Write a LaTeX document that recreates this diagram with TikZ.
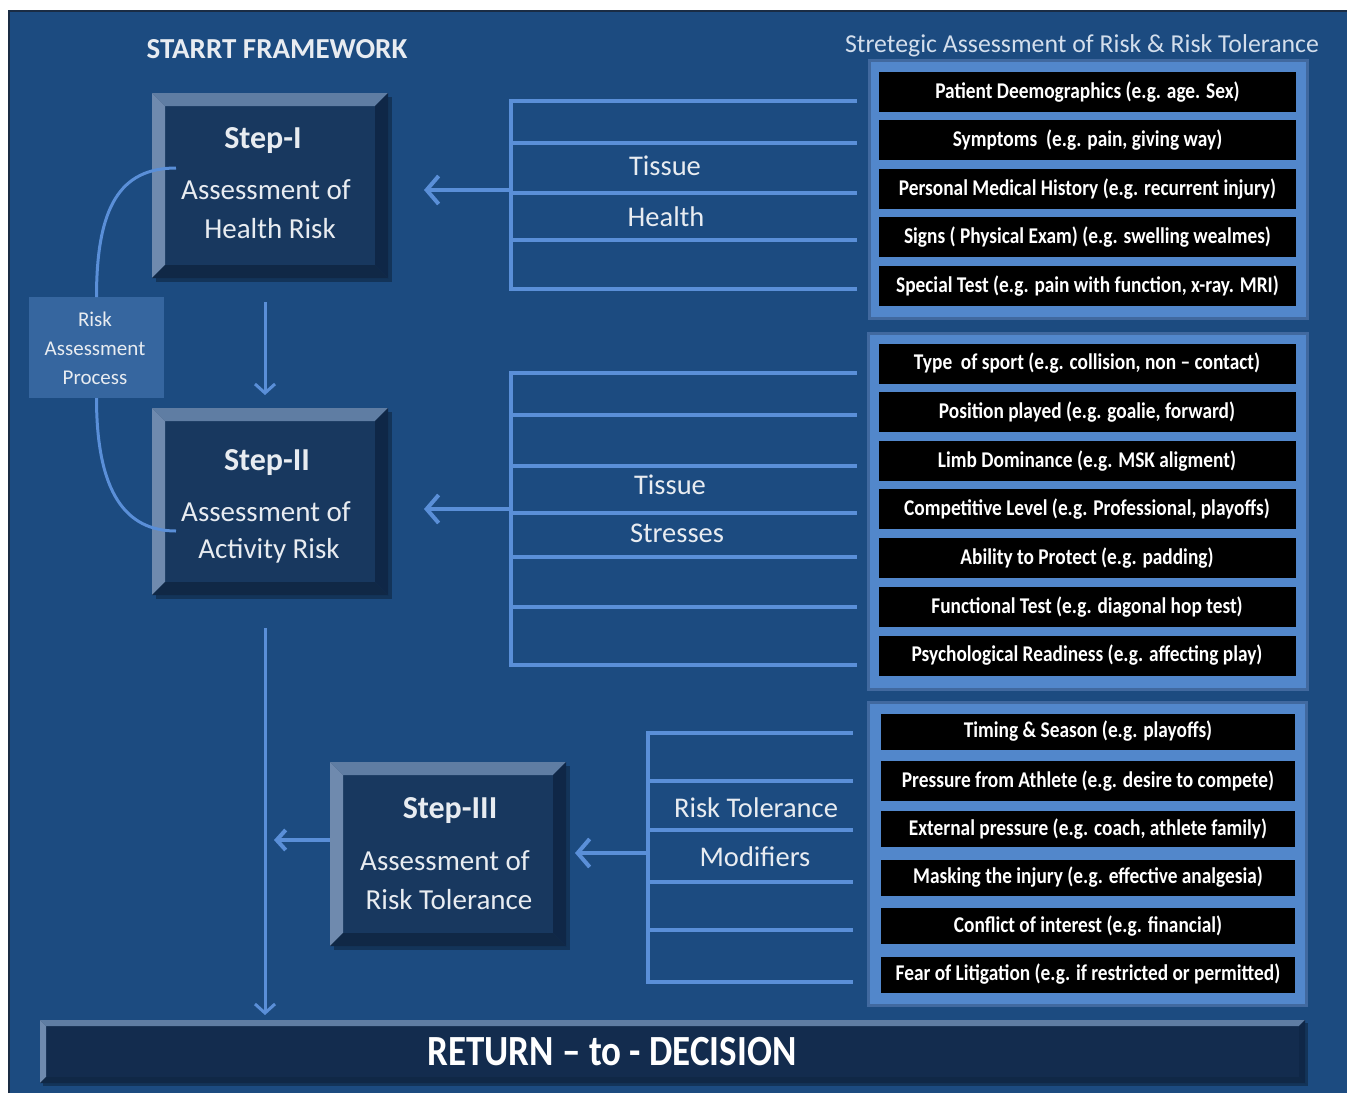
\documentclass[tikz,border=0pt]{standalone}
\usepackage{fontspec}
\setmainfont{Carlito}
\newfontfamily\condfont[FakeStretch=0.86]{Carlito}
\newfontfamily\barfont[FakeStretch=0.86]{Carlito}
\usetikzlibrary{arrows.meta,shadows}
\definecolor{bgblue}{HTML}{1C4B80}
\definecolor{bgrim}{HTML}{1A2C44}
\definecolor{stepface}{HTML}{18385F}
\definecolor{bvtopc}{HTML}{5F7DA3}
\definecolor{bvleftc}{HTML}{6F8AAE}
\definecolor{bvrightc}{HTML}{0F2747}
\definecolor{bvbotc}{HTML}{102846}
\definecolor{linecol}{HTML}{5A8FD8}
\definecolor{panelfill}{HTML}{5287CB}
\definecolor{panelrim}{HTML}{41699F}
\definecolor{rapfill}{HTML}{36669F}
\definecolor{txtwhite}{HTML}{E8ECF1}
\definecolor{subcol}{HTML}{D3DEEC}
\definecolor{barface}{HTML}{132C4E}
\newcommand\bevelbox[2]{%
 \fill[bvtopc] (#1.north west) -- (#1.north east) -- ([xshift=-#2,yshift=-#2]#1.north east) -- ([xshift=#2,yshift=-#2]#1.north west) -- cycle;
 \fill[bvleftc] (#1.north west) -- ([xshift=#2,yshift=-#2]#1.north west) -- ([xshift=#2,yshift=#2]#1.south west) -- (#1.south west) -- cycle;
 \fill[bvrightc] (#1.north east) -- (#1.south east) -- ([xshift=-#2,yshift=#2]#1.south east) -- ([xshift=-#2,yshift=-#2]#1.north east) -- cycle;
 \fill[bvbotc] (#1.south west) -- (#1.south east) -- ([xshift=-#2,yshift=#2]#1.south east) -- ([xshift=#2,yshift=#2]#1.south west) -- cycle;
}
\begin{document}
\begin{tikzpicture}[x=1pt,y=-1pt,
  titletxt/.style={text=txtwhite, font=\bfseries\fontsize{29}{33}\selectfont, inner sep=0pt},
  subtxt/.style={text=subcol, font=\fontsize{25.8}{30}\selectfont, inner sep=0pt},
  stepbox/.style={rectangle, fill=stepface, inner sep=0pt, outer sep=0pt, minimum width=236pt,
     drop shadow={shadow xshift=4pt, shadow yshift=-4pt, opacity=.3, fill=black}},
  steptitle/.style={text=txtwhite, font=\bfseries\fontsize{32}{36}\selectfont, inner sep=0pt},
  stepline/.style={text=txtwhite, font=\fontsize{29}{33}\selectfont, inner sep=0pt},
  rapbox/.style={rectangle, fill=rapfill, inner sep=0pt, outer sep=0pt, minimum width=135pt, minimum height=101pt},
  raptxt/.style={text=txtwhite, font=\fontsize{21}{29}\selectfont, align=center, inner sep=0pt},
  panel/.style={rectangle, fill=panelfill, draw=panelrim, line width=3pt, inner sep=0pt, outer sep=0pt},
  itembox/.style={rectangle, fill=black, minimum width=417pt, minimum height=40pt, inner sep=0pt, outer sep=0pt,
     text=white, font=\condfont\bfseries\fontsize{22.5}{25}\selectfont},
  itembox3/.style={itembox, minimum width=414pt, minimum height=36pt},
  brline/.style={draw=linecol, line width=4pt},
  brlabel/.style={text=txtwhite, font=\fontsize{28.5}{32}\selectfont, inner sep=0pt},
  bigarrow/.style={draw=linecol, line width=4pt, -{Straight Barb[length=12pt,width=28pt]}},
  smallarrow/.style={draw=linecol, line width=3pt, -{Straight Barb[length=9pt,width=20pt]}},
  arcline/.style={draw=linecol, line width=3pt},
  barbox/.style={rectangle, fill=barface, inner sep=0pt, outer sep=0pt, minimum width=1265pt, minimum height=63pt,
     drop shadow={shadow xshift=3pt, shadow yshift=-3pt, opacity=.3, fill=black}},
  bartxt/.style={text=white, font=\barfont\bfseries\fontsize{43}{48}\selectfont, inner sep=0pt}
]
\useasboundingbox (0,0) rectangle (1347,1093);
\fill[white] (0,0) rectangle (1347,1093);
\fill[bgblue] (8,10) rectangle (1347,1093);
\draw[bgrim, line width=1.5pt] (8.75,1093) -- (8.75,10.75) -- (1347,10.75);

% titles
\node[titletxt] (title) at (277,49) {STARRT FRAMEWORK};
\node[subtxt] (subtitle) at (1082,46) {Stretegic Assessment of Risk \& Risk Tolerance};

% panels
\node[panel, minimum width=438pt, minimum height=258pt] (pnl1) at (1088,189) {};
\node[panel, minimum width=439pt, minimum height=356pt] (pnl2) at (1087.5,511) {};
\node[panel, minimum width=438pt, minimum height=303pt] (pnl3) at (1087,853.5) {};

\node[itembox] (a1) at (1087.5,92) {Patient Deemographics (e.g. age. Sex)};
\node[itembox] (a2) at (1087.5,140) {Symptoms\ \ (e.g. pain, giving way)};
\node[itembox] (a3) at (1087.5,189) {Personal Medical History (e.g. recurrent injury)};
\node[itembox] (a4) at (1087.5,237) {Signs ( Physical Exam) (e.g. swelling wealmes)};
\node[itembox] (a5) at (1087.5,286) {Special Test (e.g. pain with function, x-ray. MRI)};

\node[itembox] (b1) at (1087,363.5) {Type\ \ of sport (e.g. collision, non – contact)};
\node[itembox] (b2) at (1087,412) {Position played (e.g. goalie, forward)};
\node[itembox] (b3) at (1087,461) {Limb Dominance (e.g. MSK aligment)};
\node[itembox] (b4) at (1087,509) {Competitive Level (e.g. Professional, playoffs)};
\node[itembox] (b5) at (1087,558) {Ability to Protect (e.g. padding)};
\node[itembox] (b6) at (1087,607) {Functional Test (e.g. diagonal hop test)};
\node[itembox] (b7) at (1087,655.5) {Psychological Readiness (e.g. affecting play)};

\node[itembox3] (c1) at (1088,731.5) {Timing \& Season (e.g. playoffs)};
\node[itembox3, minimum height=40pt] (c2) at (1088,781) {Pressure from Athlete (e.g. desire to compete)};
\node[itembox3] (c3) at (1088,829) {External pressure (e.g. coach, athlete family)};
\node[itembox3] (c4) at (1088,877.5) {Masking the injury (e.g. effective analgesia)};
\node[itembox3] (c5) at (1088,926) {Conflict of interest (e.g. financial)};
\node[itembox3] (c6) at (1088,974.5) {Fear of Litigation (e.g. if restricted or permitted)};

% brackets
\draw[brline] (511,101) -- (511,289);
\foreach \yy in {101,143,193,240,289} \draw[brline] (509,\yy) -- (857,\yy);
\draw[brline] (511,373) -- (511,665);
\foreach \yy in {373,415,466,513,557,607,665} \draw[brline] (509,\yy) -- (857,\yy);
\draw[brline] (648,733) -- (648,982);
\foreach \yy in {733,781,830,882,930,982} \draw[brline] (646,\yy) -- (853,\yy);

\node[brlabel] (th1) at (665,166) {Tissue};
\node[brlabel] (th2) at (666,217) {Health};
\node[brlabel] (ts1) at (670,485) {Tissue};
\node[brlabel] (ts2) at (677,533) {Stresses};
\node[brlabel] (rt1) at (756,808) {Risk Tolerance};
\node[brlabel] (rt2) at (755,857) {Modifiers};

% step boxes
\node[stepbox, minimum height=185pt] (s1) at (270,185.5) {};
\bevelbox{s1}{13pt}
\node[stepbox, minimum height=187pt] (s2) at (270,501.5) {};
\bevelbox{s2}{13pt}
\node[stepbox, minimum height=184pt] (s3) at (448,854) {};
\bevelbox{s3}{13pt}

\node[steptitle] (s1t) at (263,141) {Step-I};
\node[stepline] (s1a) at (266,190) {Assessment of};
\node[stepline] (s1b) at (270,229) {Health Risk};
\node[steptitle] (s2t) at (267,463) {Step-II};
\node[stepline] (s2a) at (266,512) {Assessment of};
\node[stepline] (s2b) at (269,551) {Activity Risk};
\node[steptitle] (s3t) at (450,811) {Step-III};
\node[stepline] (s3a) at (445,861) {Assessment of};
\node[stepline] (s3b) at (449,900) {Risk Tolerance};

% risk assessment process
\node[rapbox] (rap) at (96.5,347.5) {};
\node[raptxt] (raptext) at (95,348) {Risk\\Assessment\\Process};

\draw[arcline] (rap.north) .. controls +(0pt,90pt) and +(-56pt,0pt) .. ([xshift=24pt,yshift=17.5pt]s1.west);
\draw[arcline] (rap.south) .. controls +(0pt,-95pt) and +(-50pt,0pt) .. ([xshift=24pt,yshift=-29.5pt]s2.west);

% bottom bar
\node[barbox] (bar) at (672.5,1051.5) {};
\bevelbox{bar}{6pt}
\node[bartxt] (bartext) at (612,1052) {RETURN – to - DECISION};

% arrows
\coordinate (br1) at (511,190);
\coordinate (br2) at (511,509);
\coordinate (br3) at (648,853);
\draw[bigarrow, shorten >=36pt] (br1) -- (br1 -| s1.east);
\draw[bigarrow, shorten >=36pt] (br2) -- (br2 -| s2.east);
\draw[bigarrow, shorten >=9pt] (br3) -- (br3 -| s3.east);
\draw[smallarrow, shorten <=24pt, shorten >=13pt] ([xshift=-5pt]s1.south) -- ([xshift=-5pt]s2.north);
\draw[smallarrow, shorten <=33pt, shorten >=5pt] ([xshift=-5pt]s2.south) -- ([xshift=-5pt]s2.south |- bar.north);
\draw[smallarrow, line width=4pt] ([yshift=14pt]s3.west) -- ++(-56pt,0pt);
\end{tikzpicture}
\end{document}
